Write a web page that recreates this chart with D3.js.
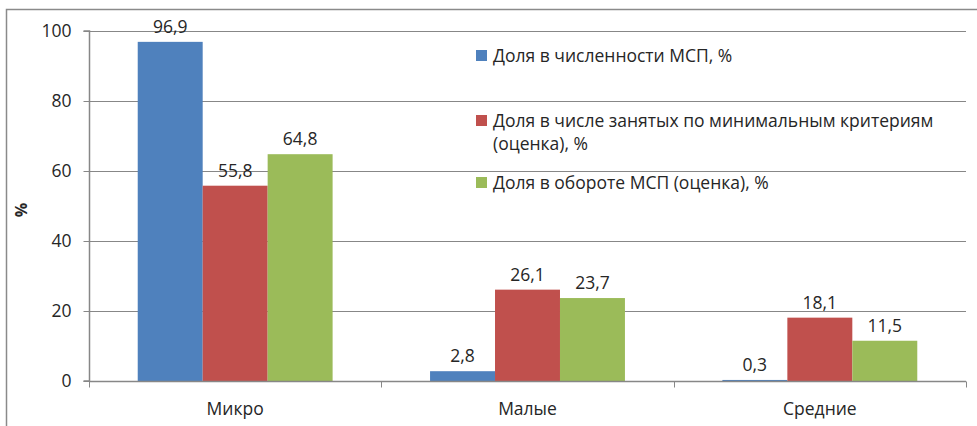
<!DOCTYPE html>
<html>
<head>
<meta charset="utf-8">
<script src="https://cdn.jsdelivr.net/npm/d3@7"></script>
<style>
    body { margin: 0; background: #fff; }
    #chart { width: 977px; height: 426px; }
    text { font-family: "Open Sans", sans-serif; fill: #262626; }
</style>
</head>
<body>
<div id="chart"></div>
<script>
// data
const categories = ["Микро", "Малые", "Средние"];
const seriesNames = [
    "Доля в численности МСП, %",
    "Доля в числе занятых по минимальным критериям (оценка), %",
    "Доля в обороте МСП (оценка), %"
];
const shareCount = [96.9, 2.8, 0.3];
const shareEmployed = [55.8, 26.1, 18.1];
const shareTurnover = [64.8, 23.7, 11.5];
const yTicks = [0, 20, 40, 60, 80, 100];
const colors = ["#4F81BD", "#C0504D", "#9BBB59"];

// legend is split in lines like the original
const legendLines = [
    ["Доля в численности МСП, %"],
    ["Доля в числе занятых по минимальным критериям", "(оценка), %"],
    ["Доля в обороте МСП (оценка), %"]
];

const w = 977, h = 426;
const margin = { top: 31, right: 11, bottom: 45, left: 89 };
const fontSize = "17.5px";

const series = [shareCount, shareEmployed, shareTurnover];
const rows = categories.map((c, i) => ({
    cat: c,
    vals: series.map((s, k) => ({ key: k, v: s[i] }))
}));

const svg = d3.select("#chart").append("svg")
    .attr("width", w)
    .attr("height", h);

// outer frame (runs off the right and bottom edge in the original)
svg.append("rect")
    .attr("x", 6.5).attr("y", 9.5)
    .attr("width", w + 10).attr("height", h + 10)
    .attr("fill", "none")
    .attr("stroke", "#8a8a8a")
    .attr("stroke-width", 1.5);

const x0 = d3.scaleBand()
    .domain(categories)
    .range([margin.left, w - margin.right])
    .padding(0);

const x1 = d3.scaleBand()
    .domain([0, 1, 2])
    .range([0, x0.bandwidth()])
    .paddingInner(0)
    .paddingOuter(0.75);

const y = d3.scaleLinear()
    .domain([0, 100])
    .range([h - margin.bottom, margin.top]);

// GRID
svg.append("g")
    .selectAll("line")
    .data(yTicks.filter(d => d > 0))
    .enter().append("line")
    .attr("x1", margin.left).attr("x2", w - margin.right)
    .attr("y1", d => Math.round(y(d)) + 0.5)
    .attr("y2", d => Math.round(y(d)) + 0.5)
    .attr("stroke", "#878787");

// BARS
const groups = svg.append("g")
    .selectAll("g")
    .data(rows)
    .enter().append("g")
    .attr("transform", d => "translate(" + x0(d.cat) + ",0)");

groups.selectAll("rect")
    .data(d => d.vals)
    .enter().append("rect")
    .attr("x", d => x1(d.key))
    .attr("y", d => y(d.v))
    .attr("width", x1.bandwidth())
    .attr("height", d => y(0) - y(d.v))
    .attr("fill", d => colors[d.key]);

groups.selectAll("text")
    .data(d => d.vals)
    .enter().append("text")
    .attr("x", d => x1(d.key) + x1.bandwidth() / 2)
    .attr("y", d => y(d.v) - 9)
    .attr("text-anchor", "middle")
    .style("font-size", fontSize)
    .text(d => String(d.v).replace(".", ","));

// AXES
const yAxis = svg.append("g")
    .attr("transform", "translate(" + (margin.left + 0.5) + ",0)")
    .call(d3.axisLeft(y).tickValues(yTicks).tickSize(6).tickPadding(12));

const xAxis = svg.append("g")
    .attr("transform", "translate(0," + (Math.round(y(0)) + 0.5) + ")")
    .call(d3.axisBottom(x0).tickSize(0).tickPadding(21));

// category boundary ticks
xAxis.selectAll(".bound")
    .data(d3.range(categories.length + 1))
    .enter().append("line")
    .attr("class", "bound")
    .attr("x1", i => Math.round(margin.left + i * x0.step()) + 0.5)
    .attr("x2", i => Math.round(margin.left + i * x0.step()) + 0.5)
    .attr("y1", 0).attr("y2", 6)
    .attr("stroke", "#878787");

[yAxis, xAxis].forEach(a => {
    a.select(".domain").attr("stroke", "#878787").attr("stroke-width", 1.5);
    a.selectAll(".tick line").attr("stroke", "#878787");
    a.selectAll(".tick text")
        .style("font-family", "'Open Sans', sans-serif")
        .style("font-size", fontSize)
        .attr("fill", "#262626");
});
yAxis.select(".domain").attr("d", "M-6," + y(0) + "H0V" + y(100) + "H-6");
xAxis.select(".domain").attr("d", "M" + margin.left + ",0H" + (w - margin.right));

// AXIS LABEL
svg.append("text")
    .text("%")
    .attr("transform", "translate(27," + ((y(0) + y(100)) / 2 + 4) + ") rotate(-90)")
    .attr("text-anchor", "middle")
    .style("font-size", "16px")
    .style("font-weight", "bold");

// LEGEND
const legendY = [62, 127, 189];
const legend = svg.append("g")
    .selectAll("g")
    .data(seriesNames)
    .enter().append("g")
    .attr("transform", (d, i) => "translate(476," + legendY[i] + ")");

legend.append("rect")
    .attr("x", 0).attr("y", -12)
    .attr("width", 11).attr("height", 11)
    .attr("fill", (d, i) => colors[i]);

legend.append("text")
    .attr("x", 17)
    .style("font-size", fontSize)
    .selectAll("tspan")
    .data((d, i) => legendLines[i])
    .enter().append("tspan")
    .attr("x", 17)
    .attr("dy", (d, j) => j === 0 ? 0 : 23)
    .text(d => d);
</script>
</body>
</html>
